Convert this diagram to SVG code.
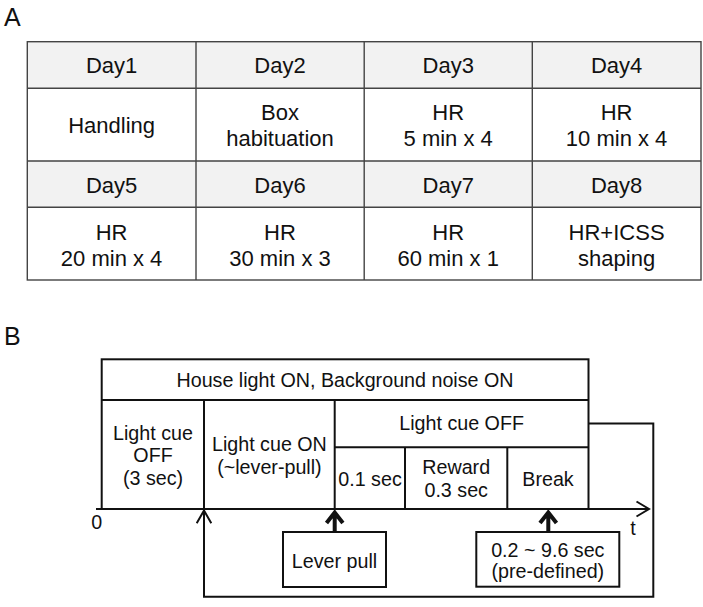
<svg xmlns="http://www.w3.org/2000/svg" width="703" height="607" viewBox="0 0 703 607">
<style>
text{font-family:"Liberation Sans",Arial,sans-serif;fill:#111;text-anchor:middle}
.t{font-size:22px}
.b{font-size:19.7px}
.lbl{font-size:25px;text-anchor:start}
.hdr{fill:#f2f2f2;stroke:none}
.grid{stroke:#444;stroke-width:1.4;fill:none}
.ln{stroke:#111;stroke-width:2;fill:none}
.thick{stroke:#111;stroke-width:4;fill:none}
</style>
<rect width="703" height="607" fill="#fff"/>
<text class="lbl" x="4" y="26">A</text>
<g id="table">
<rect class="hdr" x="27.3" y="41.7" width="673.7" height="46.6"/>
<rect class="hdr" x="27.3" y="161" width="673.7" height="46.3"/>
<rect class="grid" x="27.3" y="41.7" width="673.7" height="238.3"/>
<path class="grid" d="M27.3 88.3H701M27.3 161H701M27.3 207.3H701M196 41.7V280M364.2 41.7V280M532.3 41.7V280"/>
</g>
<g id="day1"><text class="t" x="111.6" y="73">Day1</text><text class="t" x="111.6" y="133">Handling</text></g>
<g id="day2"><text class="t" x="280" y="73">Day2</text><text class="t" x="280" y="120">Box</text><text class="t" x="280" y="145.7">habituation</text></g>
<g id="day3"><text class="t" x="448.2" y="73">Day3</text><text class="t" x="448.2" y="120">HR</text><text class="t" x="448.2" y="145.7">5 min x 4</text></g>
<g id="day4"><text class="t" x="616.6" y="73">Day4</text><text class="t" x="616.6" y="120">HR</text><text class="t" x="616.6" y="145.7">10 min x 4</text></g>
<g id="day5"><text class="t" x="111.6" y="193.3">Day5</text><text class="t" x="111.6" y="240">HR</text><text class="t" x="111.6" y="265.7">20 min x 4</text></g>
<g id="day6"><text class="t" x="280" y="193.3">Day6</text><text class="t" x="280" y="240">HR</text><text class="t" x="280" y="265.7">30 min x 3</text></g>
<g id="day7"><text class="t" x="448.2" y="193.3">Day7</text><text class="t" x="448.2" y="240">HR</text><text class="t" x="448.2" y="265.7">60 min x 1</text></g>
<g id="day8"><text class="t" x="616.6" y="193.3">Day8</text><text class="t" x="616.6" y="240">HR+ICSS</text><text class="t" x="616.6" y="265.7">shaping</text></g>

<text class="lbl" x="4" y="345">B</text>
<g id="house">
<rect class="ln" x="101.7" y="359.3" width="486.8" height="149.7"/>
<path class="ln" d="M101.7 400H588.5"/>
<text class="b" x="345" y="387">House light ON, Background noise ON</text>
</g>
<g id="cueoff">
<path class="ln" d="M204 400V509"/>
<text class="b" x="153" y="439.5">Light cue</text><text class="b" x="153" y="462">OFF</text><text class="b" x="153" y="485">(3 sec)</text>
</g>
<g id="cueon">
<path class="ln" d="M334.7 400V509"/>
<text class="b" x="269.4" y="451">Light cue ON</text><text class="b" x="269.4" y="473.5">(~lever-pull)</text>
</g>
<g id="lightoff">
<path class="ln" d="M334.7 447.3H588.5"/>
<text class="b" x="461.6" y="430">Light cue OFF</text>
</g>
<g id="s01"><path class="ln" d="M405 447.3V509"/><text class="b" x="370" y="486">0.1 sec</text></g>
<g id="reward"><path class="ln" d="M507.3 447.3V509"/><text class="b" x="456.2" y="474">Reward</text><text class="b" x="456.2" y="496.7">0.3 sec</text></g>
<g id="break"><text class="b" x="548" y="485.7">Break</text></g>
<g id="axis">
<path class="ln" d="M96 509H649M636.5 501.5L649 509L636.5 516.5"/>
<text class="b" x="96.7" y="529.3">0</text>
<text class="b" x="633" y="535">t</text>
</g>
<g id="lever"><rect class="ln" x="283" y="532" width="103" height="55"/><text class="b" x="334.5" y="568.3">Lever pull</text></g>
<g id="interval"><rect class="ln" x="476.3" y="532" width="143" height="54.7"/><text class="b" x="547.8" y="556.7">0.2 ~ 9.6 sec</text><text class="b" x="547.8" y="578.3">(pre-defined)</text></g>
<g id="connectors">
<path class="thick" d="M334.7 532V512M326.5 523L334.7 512.5L342.9 523"/>
<path class="thick" d="M548.3 532V512M540 523L548.3 512.5L556.5 523"/>
<path class="ln" d="M588.5 423.5H653.3V596.7H204V510.5M196.7 523.3L204 510.5L211.3 523.3"/>
</g>
</svg>
